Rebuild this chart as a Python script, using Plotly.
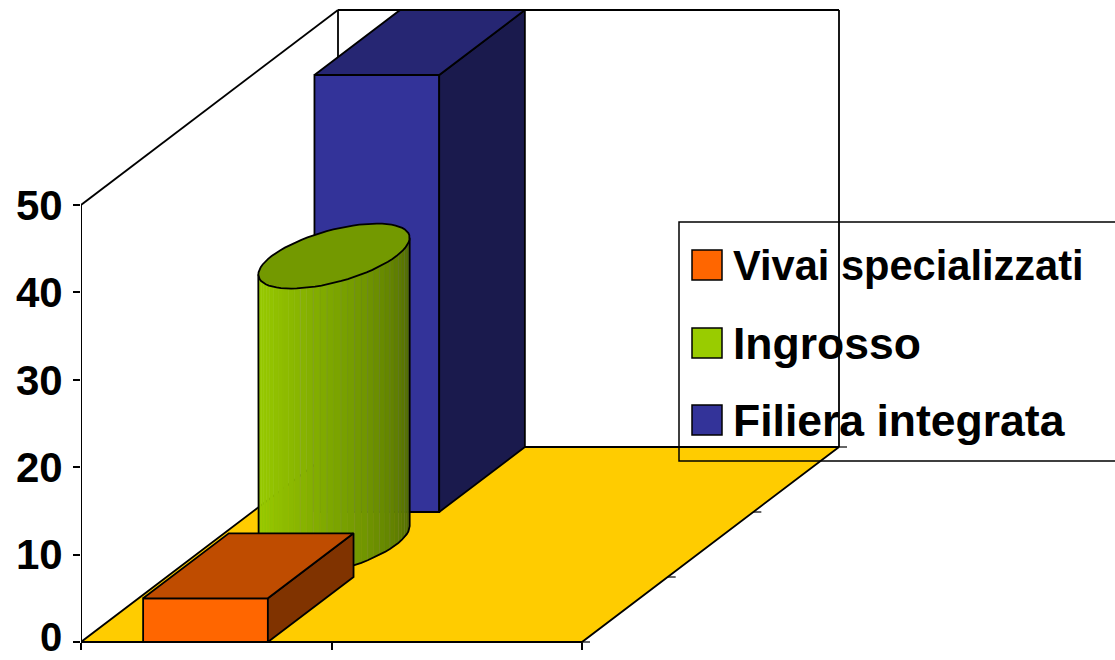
import math
import plotly.graph_objects as go

series_names = ["Vivai specializzati", "Ingrosso", "Filiera integrata"]
series_values = [5, 33, 50]
y_ticks = [0, 10, 20, 30, 40, 50]
x_ticks = [0, 0.5, 1]
front_colors = ["#FF6600", "#99CC00", "#333399"]
top_colors = ["#BF4C00", "#739900", "#262673"]
side_colors = ["#803300", "#4D6600", "#1A1A4D"]
floor_color = "#FFCC00"
font = "Liberation Sans, Arial, sans-serif"

# Scales of the plot area and of the oblique depth axis
W, H = 1115, 660
L, B = 81, 18         # left margin; pixels below the zero line
X_PX = 501.0          # pixels per x unit
Y_PX = 8.74           # pixels per value unit
DX = 257.0 / X_PX     # x shift for full depth
DY = 195.0 / Y_PX     # value shift for full depth
BAR_X0, BAR_X1 = 0.124, 0.373
LW = 1.8


def pr(x, y, z):
    return x + z * DX, y + z * DY


def poly(points, fill, line="black", width=LW, name=None):
    xs = [p[0] for p in points] + [points[0][0]]
    ys = [p[1] for p in points] + [points[0][1]]
    return go.Scatter(x=xs, y=ys, mode="lines", fill="toself", fillcolor=fill,
                      line=dict(color=line, width=width), hoverinfo="skip",
                      showlegend=False, cliponaxis=False, name=name)


def seg(points, width=LW):
    return go.Scatter(x=[p[0] for p in points], y=[p[1] for p in points], mode="lines",
                      line=dict(color="black", width=width), hoverinfo="skip",
                      showlegend=False, cliponaxis=False)


def box_traces(i, z0, z1):
    v = series_values[i]
    x0, x1 = BAR_X0, BAR_X1
    return [
        poly([pr(x0, 0, z0), pr(x1, 0, z0), pr(x1, v, z0), pr(x0, v, z0)], front_colors[i], name=series_names[i]),
        poly([pr(x1, 0, z0), pr(x1, 0, z1), pr(x1, v, z1), pr(x1, v, z0)], side_colors[i]),
        poly([pr(x0, v, z0), pr(x1, v, z0), pr(x1, v, z1), pr(x0, v, z1)], top_colors[i]),
    ]


def mix(c0, c1, f):
    a = [int(c0[k:k + 2], 16) for k in (1, 3, 5)]
    b = [int(c1[k:k + 2], 16) for k in (1, 3, 5)]
    return "#" + "".join(f"{round(p + (q - p) * f):02X}" for p, q in zip(a, b))


def cylinder_traces(i, z0, z1):
    v = series_values[i]
    wh = (BAR_X1 - BAR_X0) / 2
    zh = (z1 - z0) / 2
    cx = (BAR_X0 + BAR_X1) / 2
    zc = (z0 + z1) / 2
    t0 = math.atan2(zh * DX * X_PX, wh * X_PX)

    def pt(t, y):
        return pr(cx + wh * math.cos(t), y, zc + zh * math.sin(t))

    n = 34
    out = []
    ts = [t0 + math.pi + math.pi * k / n for k in range(n + 1)]
    for k in range(n):
        f = (k / (n - 1)) ** 1.4
        col = mix(front_colors[i], side_colors[i], f)
        edge = mix(col, "#808080", 0.35) if k >= n // 3 and k % 2 == 0 else col
        out.append(poly([pt(ts[k], 0), pt(ts[k + 1], 0), pt(ts[k + 1], v), pt(ts[k], v)], col, line=edge, width=0.6))
    out.append(seg([pt(ts[0], v), pt(ts[0], 0)] + [pt(t, 0) for t in ts] + [pt(ts[-1], v)]))
    out.append(poly([pt(2 * math.pi * k / 72, v) for k in range(72)], top_colors[i], name=series_names[i]))
    return out


fig = go.Figure()
fig.add_trace(poly([pr(0, 0, 0), pr(1, 0, 0), pr(1, 0, 1), pr(0, 0, 1)], floor_color))
fig.add_trace(seg([pr(0, 0, 0), pr(1, 0, 0)], width=2))
# depth ticks on the right floor edge
for z in (0, 1 / 3, 2 / 3, 1):
    p = pr(1, 0, z)
    fig.add_trace(seg([p, (p[0] + 8 / X_PX, p[1])], width=1.2))
fig.add_trace(seg([(0, 0), (0, y_ticks[-1])], width=2))

n_s = len(series_values)
fig.add_traces(box_traces(2, 2 / n_s, 1))
fig.add_traces(cylinder_traces(1, 1 / n_s, 2 / n_s))
fig.add_traces(box_traces(0, 0, 1 / n_s))

top = y_ticks[-1]
wall_pts = [
    [pr(0, top, 0), pr(0, top, 1)],
    [pr(0, 0, 1), pr(0, top, 1), pr(1, top, 1), pr(1, 0, 1)],
]
shapes = []
for pts in wall_pts:
    for a, b in zip(pts[:-1], pts[1:]):
        shapes.append(dict(type="line", xref="x", yref="y", x0=a[0], y0=a[1], x1=b[0], y1=b[1],
                           line=dict(color="black", width=LW), layer="below"))


def px(v):
    return (v - L) / (W - L)


def py(v):
    return (H - v) / H


# Legend box: the fill is drawn first so the wall stays hidden, the frame last
LEG_X0, LEG_X1, LEG_Y0, LEG_Y1, LEG_FLOOR = 679, 1117, 222, 461, 447
shapes.append(dict(type="rect", xref="paper", yref="paper", x0=px(LEG_X0), x1=px(LEG_X1), y0=py(LEG_FLOOR), y1=py(LEG_Y0),
                   fillcolor="white", line=dict(width=0), layer="below"))
shapes.append(dict(type="rect", xref="paper", yref="paper", x0=px(LEG_X0), x1=px(LEG_X1), y0=py(LEG_Y1), y1=py(LEG_Y0),
                   fillcolor="rgba(0,0,0,0)", line=dict(color="black", width=1.5), layer="above"))
annotations = []
rows = [265, 343, 420]
label_sizes = [41.6, 44.5, 44.5]
for name, col, r, sz in zip(series_names, front_colors, rows, label_sizes):
    shapes.append(dict(type="rect", xref="paper", yref="paper", x0=px(692), x1=px(722), y0=py(r + 15), y1=py(r - 15),
                       fillcolor=col, line=dict(color="black", width=1.5), layer="above"))
    annotations.append(dict(xref="paper", yref="paper", x=px(733), y=py(r), text=f"<b>{name}</b>", showarrow=False,
                            xanchor="left", yanchor="middle", xshift=-2,
                            font=dict(family=font, size=sz, color="black")))
# The tick label at zero would overflow the page box and be dropped by the axis
annotations.append(dict(xref="x", yref="y", x=0, y=y_ticks[0], text=f"<b>{y_ticks[0]}</b>", showarrow=False,
                        xanchor="right", yanchor="middle", xshift=-18, yshift=5, borderpad=0,
                        font=dict(family=font, size=40, color="black")))

fig.update_layout(
    width=W, height=H, margin=dict(l=L, r=0, t=0, b=0, pad=0),
    paper_bgcolor="white", plot_bgcolor="white", showlegend=False,
    shapes=shapes, annotations=annotations, hovermode=False,
    xaxis=dict(range=[0, (W - L) / X_PX], tickmode="array", tickvals=x_ticks, ticktext=["", "", ""],
               anchor="free", position=B / H,
               ticks="outside", ticklen=7, tickwidth=1.5, tickcolor="black", showgrid=False, zeroline=False, showline=False),
    yaxis=dict(range=[-B / Y_PX, (H - B) / Y_PX], tickmode="array", tickvals=y_ticks, ticktext=[f"<b>{t}</b>" for t in y_ticks],
               ticks="outside", ticklen=7, tickwidth=1.5, tickcolor="black", showgrid=False, zeroline=False, showline=False,
               ticklabelstandoff=2,
               tickfont=dict(family=font, size=42, color="black")),
)
fig.write_html("out.html", config=dict(displayModeBar=False), default_width="1115px", default_height="660px",
               post_script="document.body.style.margin='0';")
